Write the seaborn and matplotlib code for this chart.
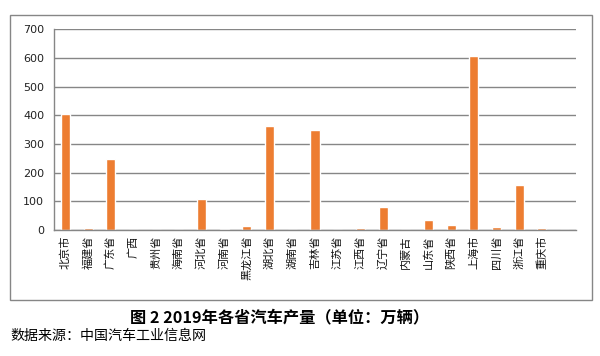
import matplotlib
matplotlib.use("Agg")
import matplotlib.pyplot as plt
import seaborn as sns
import pandas as pd
import numpy as np
from matplotlib.patches import Rectangle

# provinces (last slot is an empty category in the original chart)
provinces = ["北京市", "福建省", "广东省", "广西", "贵州省", "海南省", "河北省", "河南省",
             "黑龙江省", "湖北省", "湖南省", "吉林省", "江苏省", "江西省", "辽宁省", "内蒙古",
             "山东省", "陕西省", "上海市", "四川省", "浙江省", "重庆市", ""]
# 2019 output, 10k vehicles
output = [405, 7, 248, 0, 0, 0, 108, 3, 14, 363, 0, 349, 0, 7, 80, 0,
          35, 17, 607, 10, 157, 7, 0]
y_ticks = [0, 100, 200, 300, 400, 500, 600, 700]

title = "图 2 2019年各省汽车产量（单位：万辆）"
source = "数据来源：中国汽车工业信息网"

def make_chart():
    sns.set_style("white")
    plt.rcParams['font.family'] = ['Noto Sans CJK SC', 'DejaVu Sans']

    df = pd.DataFrame({"province": provinces, "output": output})
    fig = plt.figure(figsize=(6, 3.56), dpi=100)
    ax = fig.add_axes([54 / 600, 1 - 230 / 356, 522 / 600, (230 - 29.3) / 356])

    sns.barplot(data=df, x="province", y="output", color="#ED7D31", saturation=1,
                width=0.4, ax=ax, order=provinces)

    grid_c = "#868686"
    ax.set_ylim(0, 700)
    ax.set_xlim(-0.5, len(provinces) - 0.5)
    ax.set_yticks(y_ticks)
    ax.set_yticklabels([str(v) for v in y_ticks], fontsize=8, color="#222222",
                       family="DejaVu Sans")
    ax.yaxis.grid(True, color=grid_c, linewidth=1)
    ax.set_axisbelow(True)

    # rotated labels (read bottom-up), tick marks at category boundaries
    ax.set_xticks(np.arange(len(provinces)))
    ax.set_xticklabels(provinces, fontsize=8, color="#111111", rotation=90,
                       ha="center", va="top")
    ax.set_xticks(np.arange(len(provinces) + 1) - 0.5, minor=True)
    ax.tick_params(axis="x", which="major", length=0, pad=4)
    ax.tick_params(axis="x", which="minor", length=4, color=grid_c, width=1, direction="out")
    ax.tick_params(axis="y", length=4, color=grid_c, width=1, direction="out", pad=3)

    for s in ["top", "right"]:
        ax.spines[s].set_visible(False)
    for s in ["left", "bottom"]:
        ax.spines[s].set_color(grid_c)
        ax.spines[s].set_linewidth(1)
    ax.set_xlabel("")
    ax.set_ylabel("")

    # outer chart frame
    fig.patches.append(Rectangle((10 / 600, 1 - 300 / 356), 582 / 600, 285 / 356,
                                 transform=fig.transFigure, fill=False,
                                 edgecolor=grid_c, linewidth=1))

    fig.text(280 / 600, 1 - 317 / 356, title, ha="center", va="center",
             fontsize=11.7, fontweight="bold", color="black")
    fig.text(10 / 600, 1 - 336 / 356, source, ha="left", va="center",
             fontsize=10.1, color="black")

    fig.savefig("out.png", dpi=100)

if __name__ == "__main__":
    make_chart()
